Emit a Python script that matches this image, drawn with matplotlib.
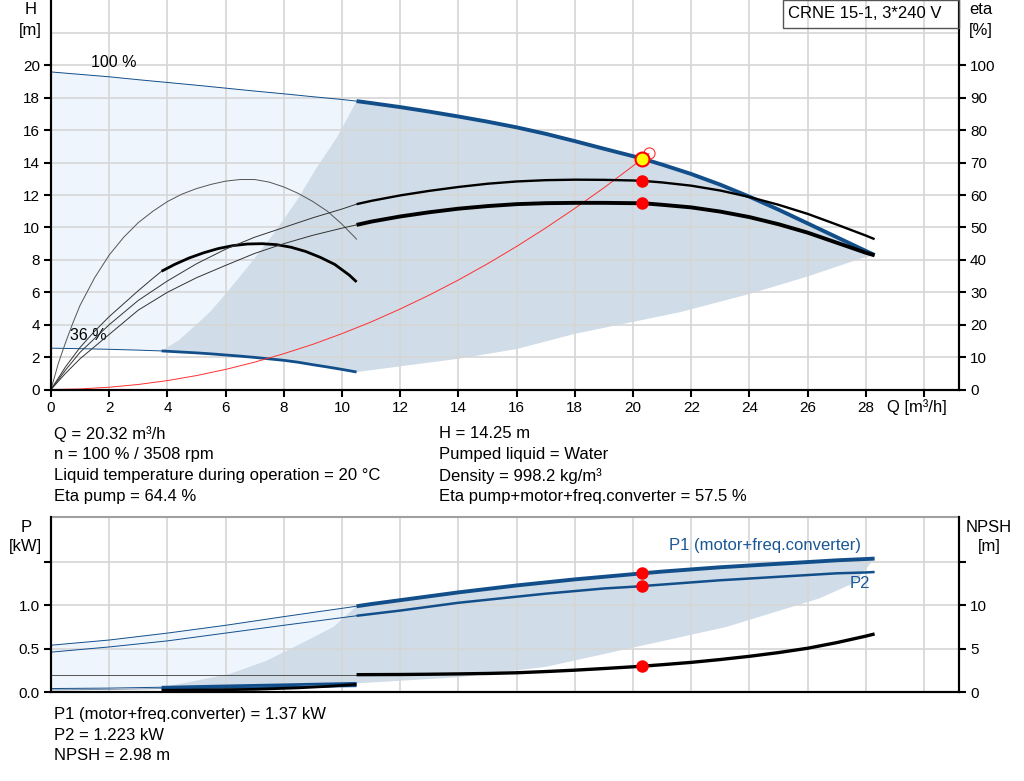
import numpy as np
import matplotlib
matplotlib.use("Agg")
import matplotlib.pyplot as plt

plt.rcParams['font.family'] = ['Liberation Sans', 'DejaVu Sans']
plt.rcParams['font.size'] = 12

W, H_PX = 1024, 781

# -------------------------
# Data
# -------------------------
# head curve, 100 % speed
q100_thin = [0, 1, 2, 3, 4, 5, 6, 7, 8, 9, 10, 10.5]
h100_thin = [19.6, 19.45, 19.3, 19.12, 18.95, 18.78, 18.6, 18.42, 18.25, 18.07, 17.9, 17.8]
q100 = [10.5, 11, 12, 13, 14, 15, 16, 17, 18, 19, 20, 20.32, 21, 22, 23, 24, 25, 26, 27, 28, 28.3]
h100 = [17.8, 17.68, 17.43, 17.15, 16.85, 16.53, 16.18, 15.78, 15.33, 14.86, 14.4, 14.25,
        13.88, 13.3, 12.64, 11.9, 11.1, 10.25, 9.4, 8.55, 8.3]

# head curve, 36 % speed
q36_thin = [0, 1, 2, 3, 3.8]
h36_thin = [2.55, 2.52, 2.48, 2.43, 2.38]
q36 = [3.8, 4.5, 5, 5.5, 6, 6.5, 7, 7.5, 8, 8.5, 9, 9.5, 10, 10.5]
h36 = [2.38, 2.31, 2.26, 2.2, 2.13, 2.06, 1.98, 1.89, 1.8, 1.68, 1.53, 1.39, 1.24, 1.08]

# eta pump / eta total, 100 %
qe_thin = [0, 0.5, 1, 2, 3, 4, 5, 6, 7, 8, 9, 10, 10.5]
eta_pump_thin = [0, 6, 11.5, 20, 27.5, 33.5, 38.8, 43.3, 47, 50, 53, 55.7, 57.2]
eta_tot_thin = [0, 5, 9.5, 17, 24.5, 30, 34.5, 38.3, 42, 45, 47.6, 49.8, 50.8]
qe = [10.5, 11, 12, 13, 14, 15, 16, 17, 18, 19, 20, 20.32, 21, 22, 23, 24, 25, 26, 27, 28, 28.3]
eta_pump = [57.2, 58.2, 59.9, 61.3, 62.5, 63.5, 64.2, 64.6, 64.75, 64.7, 64.5, 64.4,
            63.9, 62.9, 61.4, 59.4, 57.0, 54.2, 50.9, 47.5, 46.4]
eta_tot = [50.8, 51.8, 53.4, 54.7, 55.8, 56.6, 57.2, 57.5, 57.6, 57.6, 57.5, 57.5,
           57.0, 56.2, 54.9, 53.2, 51.0, 48.4, 45.3, 42.2, 41.4]

# eta, 36 %
q36e_pump = [0, 0.25, 0.5, 0.75, 1, 1.5, 2, 2.5, 3, 3.5, 4, 4.5, 5, 5.5, 6, 6.5, 7,
             7.5, 8, 8.5, 9, 9.5, 10, 10.5]
eta36_pump = [0, 8, 14.5, 20.5, 26, 34.5, 41.5, 47, 51.5, 55, 58, 60.3, 62, 63.3, 64.3,
              64.8, 64.8, 64, 62.5, 60.5, 58, 55, 51, 46.4]
q36e_tot_thin = [0, 0.5, 1, 1.5, 2, 2.5, 3, 3.5, 3.8]
eta36_tot_thin = [0, 7, 13, 18, 22.5, 26.5, 30.5, 34.3, 36.5]
q36e_tot = [3.8, 4.25, 4.75, 5.25, 5.75, 6.25, 6.75, 7.25, 7.75, 8.25, 8.75, 9.25, 9.75,
            10.25, 10.5]
eta36_tot = [36.5, 38.6, 40.6, 42.2, 43.5, 44.4, 44.9, 45.0, 44.7, 43.9, 42.6, 40.8, 38.6,
             35.3, 33.2]

# system curve
q_sys = [0, 1, 2, 3, 4, 5, 6, 7, 8, 9, 10, 11, 12, 13, 14, 15, 16, 17, 18, 19, 20,
         20.32, 20.55]
h_sys = [0, 0.035, 0.14, 0.31, 0.55, 0.86, 1.24, 1.69, 2.21, 2.79, 3.45, 4.17, 4.97, 5.83,
         6.76, 7.76, 8.83, 9.97, 11.18, 12.45, 13.8, 14.25, 14.57]

# operating range boundaries (top chart)
q_edge = [3.8, 4.4, 4.9, 5.5, 6.05, 6.85, 7.65, 8.45, 9.14, 9.83, 10.5]
h_edge = [2.38, 3.05, 3.85, 4.85, 6.0, 7.76, 9.61, 11.67, 13.72, 15.57, 17.8]
q_low = [10.5, 14, 16, 18, 21.6, 24, 26, 27.8, 28.3]
h_low = [1.08, 1.9, 2.5, 3.44, 4.77, 5.9, 6.98, 8.07, 8.3]

# power curves
qp_thin = [0, 2, 4, 6, 8, 10.5]
p1_thin = [0.54, 0.6, 0.68, 0.77, 0.87, 0.99]
p2_thin = [0.46, 0.52, 0.59, 0.68, 0.77, 0.88]
qp = [10.5, 11, 12, 13, 14, 15, 16, 17, 18, 19, 20, 20.32, 21, 22, 23, 24, 25, 26, 27, 28, 28.3]
p1 = [0.99, 1.015, 1.06, 1.105, 1.15, 1.19, 1.23, 1.265, 1.30, 1.33, 1.36, 1.37, 1.39,
      1.415, 1.44, 1.46, 1.48, 1.50, 1.52, 1.535, 1.54]
p2 = [0.88, 0.9, 0.94, 0.985, 1.03, 1.065, 1.10, 1.135, 1.165, 1.195, 1.215, 1.223, 1.24,
      1.265, 1.29, 1.31, 1.33, 1.35, 1.37, 1.38, 1.385]

qp36_thin = [0, 2, 3.8]
p1_36_thin = [0.04, 0.045, 0.055]
p2_36_thin = [0.025, 0.03, 0.04]
qp36 = [3.8, 6, 8, 10.5]
p1_36 = [0.055, 0.07, 0.083, 0.1]
p2_36 = [0.04, 0.05, 0.058, 0.068]

# NPSH
qn_thin = [0, 10.5]
npsh_thin = [2.0, 2.0]
qn = [10.5, 12, 13, 14, 15, 16, 17, 18, 19, 20, 20.32, 21, 22, 23, 24, 25, 26, 27, 28, 28.3]
npsh = [2.0, 2.02, 2.05, 2.09, 2.14, 2.22, 2.36, 2.52, 2.71, 2.91, 2.98, 3.15, 3.42, 3.75,
        4.12, 4.55, 5.05, 5.7, 6.45, 6.7]
qn36 = [3.8, 5.5, 7, 8.5, 9.5, 10.5]
npsh36 = [0.2, 0.24, 0.31, 0.48, 0.65, 0.88]

# operating range boundaries (bottom chart)
qp_edge = [3.8, 5, 6.2, 7.4, 8.6, 9.7, 10.5]
p_edge = [0.055, 0.13, 0.215, 0.36, 0.56, 0.75, 0.99]
qp_low = [10.5, 14, 17, 23.2, 26.4, 27.6, 28.3]
p_low = [0.1, 0.17, 0.29, 0.75, 1.08, 1.26, 1.54]

# duty point
q_duty = 20.32
h_duty = 14.25
eta_pump_duty = 64.4
eta_tot_duty = 57.5
p1_duty = 1.37
p2_duty = 1.223
npsh_duty = 2.98

BLUE = '#124f8a'
TXT_BLUE = '#1b5794'
LIGHT = '#eef5fc'
DARK = '#d0dce7'
GRID = '#d6d6d6'


def fig_txt(x, y, s, **kw):
    fig.text(x / W, 1 - y / H_PX, s, **kw)


def style_axes(ax):
    for side in ['left', 'right', 'bottom']:
        ax.spines[side].set_linewidth(1.5)
    ax.tick_params(direction='out', length=5, width=1.5, pad=3, labelsize=11)


fig = plt.figure(figsize=(W / 100, H_PX / 100), dpi=100)

# -------------------------
# Top chart: H / eta
# -------------------------
ax = fig.add_axes([51 / W, 1 - 389.5 / H_PX, 908 / W, 389.5 / H_PX])
ax.set_xlim(0, 31.2)
ax.set_ylim(0, 24.04)
ax.set_xticks(np.arange(0, 31, 2))
ax.set_xticklabels([str(v) for v in range(0, 29, 2)] + [''])
ax.set_yticks(np.arange(0, 21, 2))
ax.grid(True, color=GRID, lw=1.2)
ax.axhline(22, color=GRID, lw=1.2, zorder=1.5)
ax.spines['top'].set_visible(False)
style_axes(ax)

# shaded ranges
lx = np.concatenate([q100_thin, q100, q_low[::-1], q36[::-1], q36_thin[::-1]])
ly = np.concatenate([h100_thin, h100, h_low[::-1], h36[::-1], h36_thin[::-1]])
ax.fill(lx, ly, color=LIGHT, lw=0, zorder=0.8)
dx = np.concatenate([q_edge, q100, q_low[::-1], q36[::-1]])
dy = np.concatenate([h_edge, h100, h_low[::-1], h36[::-1]])
ax.fill(dx, dy, color=DARK, lw=0, zorder=0.9)

ax.plot(q100_thin, h100_thin, color=BLUE, lw=0.7)
ax.plot(q100, h100, color=BLUE, lw=2.8, solid_capstyle='butt')
ax.plot(q36_thin, h36_thin, color=BLUE, lw=0.7)
ax.plot(q36, h36, color=BLUE, lw=2.0, solid_capstyle='butt')
ax.plot(q_sys, h_sys, color='#ff3030', lw=0.7)

ax.text(1.39, 19.75, '100 %', fontsize=11.5, va='bottom')
ax.text(0.64, 2.85, '36 %', fontsize=11.5, va='bottom')

ax.plot([20.55], [14.57], 'o', ms=8, mfc='none', mec='#ff3030', mew=0.8, zorder=4)
ax.plot([q_duty], [h_duty], 'o', ms=10, mfc='#ffff00', mec='#ff0000', mew=1.5, zorder=5)

axe = ax.twinx()
axe.set_ylim(0, 24.04 * 5)
axe.set_yticks(np.arange(0, 101, 10))
axe.spines['top'].set_visible(False)
style_axes(axe)

axe.plot(q36e_pump, eta36_pump, color='#555555', lw=0.7)
axe.plot(q36e_tot_thin, eta36_tot_thin, color='#333333', lw=0.7)
axe.plot(q36e_tot, eta36_tot, color='black', lw=2.0, solid_capstyle='butt')
axe.plot(qe_thin, eta_pump_thin, color='#333333', lw=0.7)
axe.plot(qe_thin, eta_tot_thin, color='#333333', lw=0.7)
axe.plot(qe, eta_pump, color='black', lw=1.7, solid_capstyle='butt')
axe.plot(qe, eta_tot, color='black', lw=2.8, solid_capstyle='butt')
axe.plot([q_duty, q_duty], [eta_pump_duty, eta_tot_duty], 'o', ms=9, color='#ff0000', mew=0)

fig_txt(31, 9, 'H', ha='center', va='center')
fig_txt(30, 30, '[m]', ha='center', va='center')
fig_txt(981, 9, 'eta', ha='center', va='center')
fig_txt(981, 30, '[%]', ha='center', va='center')
fig_txt(887, 407, 'Q [m³/h]', ha='left', va='center')

fig.patches.append(plt.Rectangle((782.5 / W, 1 - 28 / H_PX), 176 / W, 28 / H_PX,
                                 transform=fig.transFigure, fill=False,
                                 edgecolor='#555555', lw=1.0))
fig_txt(865, 14, 'CRNE 15-1, 3*240 V', ha='center', va='center', fontsize=12)

# -------------------------
# Duty point text
# -------------------------
left_lines = ['Q = 20.32 m³/h', 'n = 100 % / 3508 rpm',
              'Liquid temperature during operation = 20 °C', 'Eta pump = 64.4 %']
right_lines = ['H = 14.25 m', 'Pumped liquid = Water', 'Density = 998.2 kg/m³',
               'Eta pump+motor+freq.converter = 57.5 %']
for i, s in enumerate(left_lines):
    fig_txt(54, 434 + 21 * i, s, va='center')
for i, s in enumerate(right_lines):
    fig_txt(439, 434 + 21 * i, s, va='center')

# -------------------------
# Bottom chart: P / NPSH
# -------------------------
bx = fig.add_axes([51 / W, 1 - 692 / H_PX, 908 / W, 175 / H_PX])
bx.set_xlim(0, 31.2)
bx.set_ylim(0, 2.02)
bx.set_xticks(np.arange(0, 31, 2))
bx.set_yticks([0, 0.5, 1.0, 1.5])
bx.set_yticklabels(['0.0', '0.5', '1.0', ''])
bx.grid(True, color=GRID, lw=1.2)
bx.spines['top'].set_color('#a0a0a0')
bx.spines['top'].set_linewidth(1.5)
style_axes(bx)
bx.tick_params(axis='x', length=0, labelbottom=False)

lx = np.concatenate([qp_thin, [10.5, 8, 6, 3.8, 2, 0]])
ly = np.concatenate([p1_thin, [p1_36[-1], p1_36[2], p1_36[1], p1_36[0], p1_36_thin[1], p1_36_thin[0]]])
bx.fill(lx, ly, color=LIGHT, lw=0, zorder=0.8)
dx = np.concatenate([qp_edge, qp, qp_low[::-1], qp36[::-1]])
dy = np.concatenate([p_edge, p1, p_low[::-1], p1_36[::-1]])
bx.fill(dx, dy, color=DARK, lw=0, zorder=0.9)

bx.plot(qp_thin, p1_thin, color=BLUE, lw=0.7)
bx.plot(qp_thin, p2_thin, color=BLUE, lw=0.7)
bx.plot(qp, p1, color=BLUE, lw=2.8, solid_capstyle='butt')
bx.plot(qp, p2, color=BLUE, lw=1.8, solid_capstyle='butt')
bx.plot(qp36_thin, p1_36_thin, color=BLUE, lw=0.7)
bx.plot(qp36_thin, p2_36_thin, color='#7a8fa6', lw=0.7)
bx.plot(qp36, p1_36, color=BLUE, lw=2.0, solid_capstyle='butt')
bx.plot(qp36, p2_36, color=BLUE, lw=1.5, solid_capstyle='butt')
bx.plot([q_duty, q_duty], [p1_duty, p2_duty], 'o', ms=9, color='#ff0000', mew=0, zorder=5)

bn = bx.twinx()
bn.set_ylim(0, 20.2)
bn.set_yticks([0, 5, 10, 15])
bn.set_yticklabels(['0', '5', '10', ''])
bn.spines['top'].set_visible(False)
style_axes(bn)
bn.plot(qn_thin, npsh_thin, color='#555555', lw=0.7)
bn.plot(qn, npsh, color='black', lw=2.4, solid_capstyle='butt')
bn.plot(qn36, npsh36, color='black', lw=2.0, solid_capstyle='butt')
bn.plot([q_duty], [npsh_duty], 'o', ms=9, color='#ff0000', mew=0, zorder=5)

fig_txt(669, 545.5, 'P1 (motor+freq.converter)', color=TXT_BLUE, va='center')
fig_txt(850, 583, 'P2', color=TXT_BLUE, va='center')

fig_txt(26, 527, 'P', ha='center', va='center')
fig_txt(25, 547, '[kW]', ha='center', va='center')
fig_txt(989, 527, 'NPSH', ha='center', va='center')
fig_txt(989, 547, '[m]', ha='center', va='center')

bottom_lines = ['P1 (motor+freq.converter) = 1.37 kW', 'P2 = 1.223 kW', 'NPSH = 2.98 m']
for i, s in enumerate(bottom_lines):
    fig_txt(54, 714 + 21 * i, s, va='center')

fig.savefig('out.png', dpi=100)
